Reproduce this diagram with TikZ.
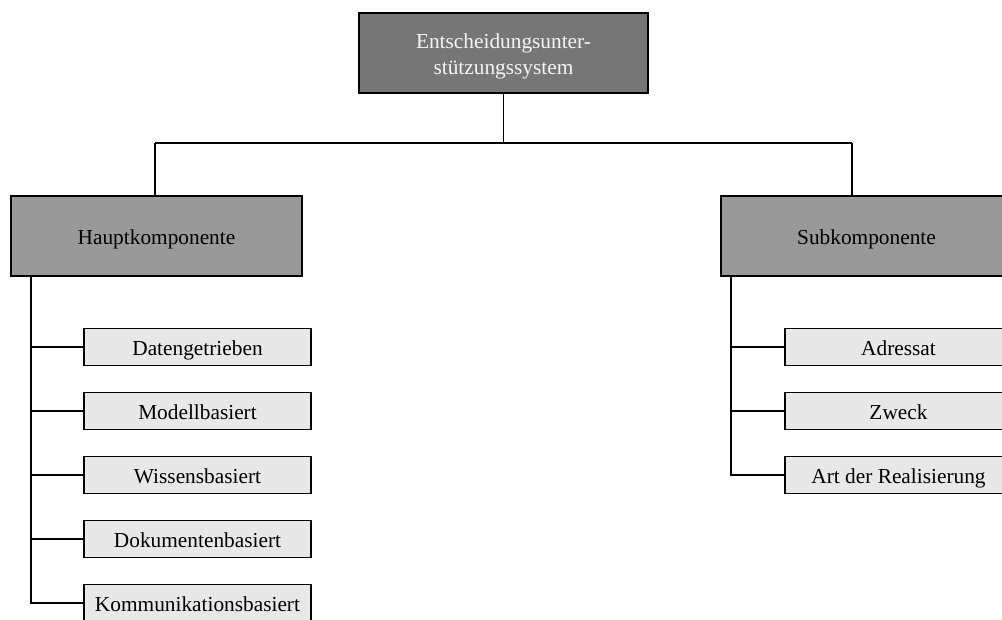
\documentclass[tikz,border=0pt]{standalone}
\usepackage{fontspec}
\setmainfont{Liberation Serif}
\usetikzlibrary{calc}
\definecolor{rootfill}{RGB}{118,118,118}
\definecolor{mainfill}{RGB}{153,153,153}
\definecolor{leaffill}{RGB}{232,232,232}
\definecolor{roottext}{RGB}{245,245,245}
\begin{document}
\begin{tikzpicture}[x=0.75pt,y=-0.75pt,
  every node/.style={font=\fontsize{16}{19.5}\selectfont},
  rootbox/.style={draw=black,line width=1.4pt,fill=rootfill,text=roottext,
    minimum width=216.75pt,minimum height=60pt,align=center,inner sep=0pt,
    text height=34pt,text depth=2.5pt},
  mainbox/.style={draw=black,line width=1.4pt,fill=mainfill,
    minimum width=218.25pt,minimum height=60pt,inner sep=0pt,
    text height=13.5pt,text depth=1.5pt},
  leafbox/.style={draw=black,line width=1.4pt,fill=leaffill,
    minimum width=170.25pt,minimum height=27.75pt,inner sep=0pt,
    text height=13.5pt,text depth=1.5pt},
  link/.style={draw=black,line width=1.2pt}]
\clip (0,0) rectangle (1002,619);

% top level
\node[rootbox] (root) at (503.5,53) {Entscheidungsunter-\\stützungssystem};

% second level
\node[mainbox] (haupt) at (156.5,236) {Hauptkomponente};
\node[mainbox] (sub) at (866.5,236) {Subkomponente};

% leaves of the main components
\node[leafbox] (dat)  at (197.5,347) {Datengetrieben};
\node[leafbox] (mod)  at (197.5,411) {Modellbasiert};
\node[leafbox] (wis)  at (197.5,475) {Wissensbasiert};
\node[leafbox] (dok)  at (197.5,539) {Dokumentenbasiert};
\node[leafbox] (kom)  at (197.5,603) {Kommunikationsbasiert};

% leaves of the sub components
\node[leafbox] (adr)  at (898.5,347) {Adressat};
\node[leafbox] (zwe)  at (898.5,411) {Zweck};
\node[leafbox] (art)  at (898.5,475) {Art der Realisierung};

% bus between the levels
\coordinate (busL) at (155,143);
\coordinate (busR) at (852,143);
\draw[link] (root.south) -- (root.south |- busL);
\draw[link] (busL) -- (busR);
\draw[link] (busL) -- (busL |- haupt.north);
\draw[link] (busR) -- (busR |- sub.north);

% left spine
\coordinate (spL) at ($(haupt.south west)+(21,0)$);
\draw[link] (spL) |- (kom.west);
\foreach \n in {dat,mod,wis,dok}
  \draw[link] (spL |- \n.west) -- (\n.west);

% right spine
\coordinate (spR) at ($(sub.south west)+(11,0)$);
\draw[link] (spR) |- (art.west);
\foreach \n in {adr,zwe}
  \draw[link] (spR |- \n.west) -- (\n.west);
\end{tikzpicture}
\end{document}
